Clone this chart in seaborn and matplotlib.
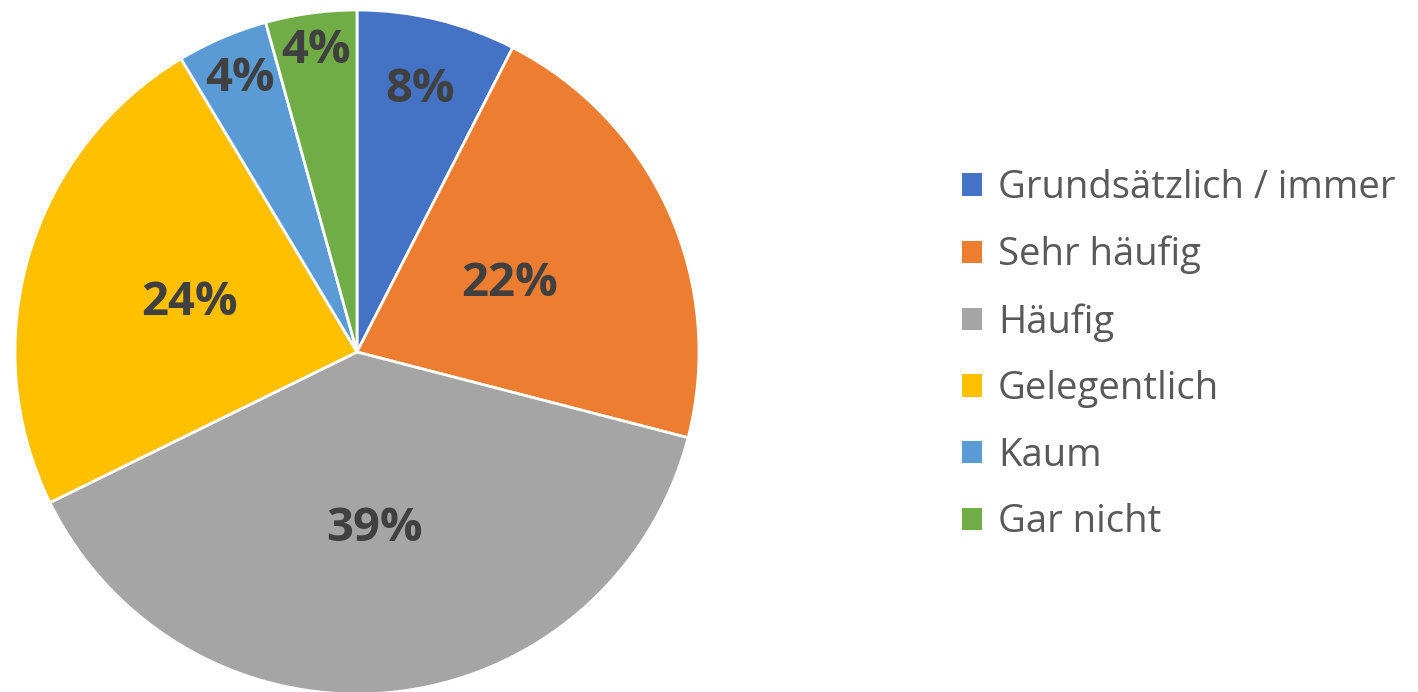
import numpy as np
import pandas as pd
import seaborn as sns
import matplotlib.pyplot as plt
from matplotlib.patches import Patch

sns.set_theme(style="white")
plt.rcParams['font.family'] = ['Open Sans', 'DejaVu Sans']

categories = ["Grundsätzlich / immer", "Sehr häufig", "Häufig", "Gelegentlich", "Kaum", "Gar nicht"]
counts = [7, 20, 36, 22, 4, 4]
colors = ["#4472C4", "#ED7D31", "#A5A5A5", "#FFC000", "#5B9BD5", "#70AD47"]
label_dist = [0.79, 0.49, 0.52, 0.51, 0.87, 0.89]

df = pd.DataFrame({"cat": categories, "n": counts})

fig = plt.figure(figsize=(14.18, 6.92), dpi=100)
W, H = 1418, 692
cx, cy, r = 357, 352, 342
ax = fig.add_axes([(cx - r) / W, (H - cy - r) / H, 2 * r / W, 2 * r / H])

wedges, texts, autotexts = ax.pie(
    df["n"], colors=colors, startangle=90, counterclock=False,
    autopct="%.0f%%", radius=1,
    wedgeprops=dict(edgecolor="white", linewidth=2),
    textprops=dict(color="#404040", fontsize=34, fontweight="bold"),
)
for w, t, d in zip(wedges, autotexts, label_dist):
    ang = np.deg2rad((w.theta1 + w.theta2) / 2)
    t.set_position((d * np.cos(ang), d * np.sin(ang)))
    t.set_ha("center")
    t.set_va("center")

ax.set_xlim(-1, 1)
ax.set_ylim(-1, 1)
ax.set_aspect("equal")
ax.axis("off")

handles = [Patch(facecolor=c, edgecolor="none") for c in colors]
leg = fig.legend(
    handles, categories, loc="upper left",
    bbox_to_anchor=(962 / W, 1 - 169 / H),
    frameon=False, fontsize=27.5, labelcolor="#595959",
    handlelength=0.52, handleheight=0.52, handletextpad=0.42,
    labelspacing=0.75, borderaxespad=0, borderpad=0,
)

fig.savefig("out.png", dpi=100, facecolor="white")
